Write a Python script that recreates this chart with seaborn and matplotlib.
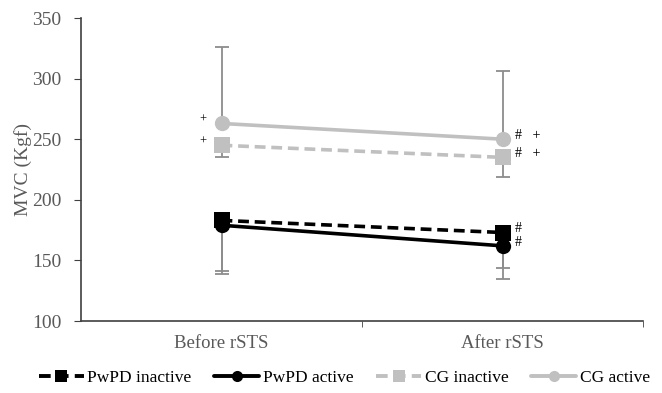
import matplotlib
matplotlib.use('Agg')
import matplotlib.pyplot as plt
import seaborn as sns
import pandas as pd
from matplotlib.lines import Line2D

# Data
phases = ['Before rSTS', 'After rSTS']
series = ['PwPD inactive', 'PwPD active', 'CG inactive', 'CG active']
pwpd_inactive = [183, 173]
pwpd_active = [179, 162]
cg_inactive = [245, 235]
cg_active = [263, 250]

# error bar ends (one-sided, as drawn in the figure)
cg_active_upper = [326, 306]
cg_inactive_lower = [235, 219]
pwpd_inactive_lower = [141, 144]
pwpd_active_lower = [139, 135]

# significance marks
marks_before = {'CG active': '+', 'CG inactive': '+'}
marks_after = {'CG active': '#   +', 'CG inactive': '#   +',
               'PwPD inactive': '#', 'PwPD active': '#'}

values = {'PwPD inactive': pwpd_inactive, 'PwPD active': pwpd_active,
          'CG inactive': cg_inactive, 'CG active': cg_active}

rows = []
for s in series:
    for i, p in enumerate(phases):
        rows.append({'pos': i, 'Phase': p, 'Group': s, 'MVC': values[s][i]})
df = pd.DataFrame(rows)

sns.set_style('white')
plt.rcParams['font.family'] = ['Liberation Serif', 'DejaVu Serif']

grey_txt = '#595959'
palette = {'PwPD inactive': 'black', 'PwPD active': 'black',
           'CG inactive': '#c0c0c0', 'CG active': '#c0c0c0'}
markers = {'PwPD inactive': 's', 'PwPD active': 'o',
           'CG inactive': 's', 'CG active': 'o'}
dashes = {'PwPD inactive': (3, 1.6), 'PwPD active': '',
          'CG inactive': (3, 1.6), 'CG active': ''}

fig = plt.figure(figsize=(6.62, 3.93), dpi=100)
ax = fig.add_axes([81 / 662, 1 - 321 / 393, 562 / 662, 303 / 393])

# error bars first so they sit under the markers
err_col = '#8c8c8c'
ekw = dict(fmt='none', ecolor=err_col, elinewidth=1.3, capsize=5, capthick=1.3, zorder=1)
for x in range(2):
    ax.errorbar([x], [cg_active[x]], yerr=[[0], [cg_active_upper[x] - cg_active[x]]], **ekw)
    ax.errorbar([x], [cg_inactive[x]], yerr=[[cg_inactive[x] - cg_inactive_lower[x]], [0]], **ekw)
    ax.errorbar([x], [pwpd_inactive[x]], yerr=[[pwpd_inactive[x] - pwpd_inactive_lower[x]], [0]], **ekw)
    ax.errorbar([x], [pwpd_active[x]], yerr=[[pwpd_active[x] - pwpd_active_lower[x]], [0]], **ekw)

sns.lineplot(data=df, x='pos', y='MVC', hue='Group', style='Group',
             hue_order=series, style_order=series, palette=palette,
             markers=markers, dashes=dashes, linewidth=2.6, markersize=11,
             markeredgewidth=0, ax=ax, legend=False, zorder=3)

ax.set_xlim(-0.5, 1.5)
ax.set_ylim(100, 350)
ax.set_yticks(range(100, 351, 50))
ax.set_xticks([0, 1])
ax.set_xticklabels(phases)
ax.xaxis.set_minor_locator(matplotlib.ticker.FixedLocator([0.5, 1.5]))
ax.tick_params(axis='x', which='major', length=0, labelsize=13.5, colors=grey_txt, pad=10)
ax.tick_params(axis='x', which='minor', length=4, direction='out', color='#404040', bottom=True)
ax.tick_params(axis='y', length=5, direction='out', left=True, labelsize=14,
               colors=grey_txt, color='#404040', pad=9)
for sp in ['top', 'right']:
    ax.spines[sp].set_visible(False)
for sp in ['left', 'bottom']:
    ax.spines[sp].set_color('#404040')
    ax.spines[sp].set_linewidth(1.2)
ax.set_xlabel('')
ax.set_ylabel('MVC (Kgf)', fontsize=14, color=grey_txt, labelpad=0)

# significance symbols
for s, m in marks_before.items():
    ax.text(-0.065, values[s][0] + 3, m, fontsize=9, color='black', ha='center', va='center')
for s, m in marks_after.items():
    ax.text(1.045, values[s][1] + 3, m, fontsize=10, color='black', ha='left', va='center')

# legend
handles = [Line2D([], [], color=palette[s], marker=markers[s], markersize=8,
                  linewidth=2.8, markeredgewidth=0,
                  linestyle=(0, dashes[s]) if dashes[s] else '-') for s in series]
fig.legend(handles, series, loc='center', bbox_to_anchor=(0.52, 1 - 378 / 393),
           ncol=4, frameon=False, fontsize=12.5, handlelength=2.6, handletextpad=0.2,
           columnspacing=1.3, labelcolor='black')

fig.savefig('out.png', dpi=100)
